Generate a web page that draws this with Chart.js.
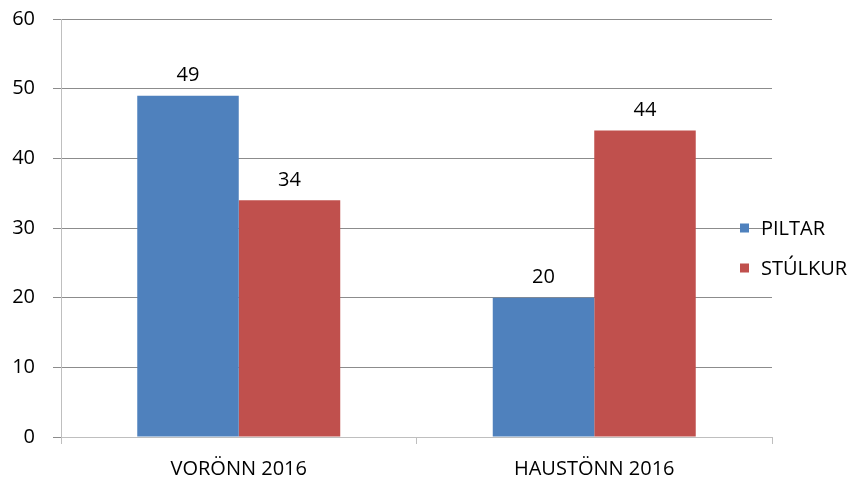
<!DOCTYPE html>
<html>
<head>
<meta charset="utf-8">
<script src="https://cdn.jsdelivr.net/npm/chart.js@4/dist/chart.umd.min.js"></script>
<style>
  html, body { margin: 0; padding: 0; background: #fff; }
  #wrap { width: 857px; height: 484px; }
</style>
</head>
<body>
<div id="wrap"><canvas id="chart"></canvas></div>
<script>
const categories = ['VORÖNN 2016', 'HAUSTÖNN 2016'];
const piltar = [49, 20];
const stulkur = [34, 44];
const seriesNames = ['PILTAR', 'STÚLKUR'];
const yTicks = [0, 10, 20, 30, 40, 50, 60];

const FONT = '"Open Sans", "Liberation Sans", sans-serif';
const FS = 20;

// value labels above each bar
const barLabels = {
    id: 'barLabels',
    afterDatasetsDraw(chart) {
        const ctx = chart.ctx;
        ctx.save();
        ctx.font = FS + 'px ' + FONT;
        ctx.fillStyle = '#000';
        ctx.textAlign = 'center';
        ctx.textBaseline = 'middle';
        chart.data.datasets.forEach((ds, i) => {
            chart.getDatasetMeta(i).data.forEach((bar, j) => {
                ctx.fillText(ds.data[j], bar.x, bar.y - 20);
            });
        });
        ctx.restore();
    }
};

// legend drawn inside the right part of the plot, like the original
const sideLegend = {
    id: 'sideLegend',
    afterDraw(chart) {
        const ctx = chart.ctx;
        ctx.save();
        ctx.font = FS + 'px ' + FONT;
        ctx.textBaseline = 'middle';
        chart.data.datasets.forEach((ds, i) => {
            const y = 228 + i * 40;
            ctx.fillStyle = ds.backgroundColor;
            ctx.fillRect(740, y - 4.5, 9, 9);
            ctx.fillStyle = '#000';
            ctx.fillText(ds.label, 761, y + 1);
        });
        ctx.restore();
    }
};

new Chart(document.getElementById('chart'), {
    type: 'bar',
    data: {
        labels: categories,
        datasets: [
            { label: seriesNames[0], data: piltar, backgroundColor: '#4F81BD' },
            { label: seriesNames[1], data: stulkur, backgroundColor: '#C0504D' }
        ]
    },
    options: {
        responsive: true,
        maintainAspectRatio: false,
        animation: false,
        layout: { padding: { top: 19, right: 85, left: 0, bottom: 0 } },
        categoryPercentage: 0.571,
        barPercentage: 1,
        plugins: {
            legend: { display: false },
            tooltip: { enabled: false }
        },
        scales: {
            x: {
                grid: {
                    offset: true,
                    drawOnChartArea: false,
                    tickLength: 7,
                    color: '#bfbfbf'
                },
                border: { color: '#bfbfbf', width: 1 },
                ticks: {
                    color: '#000',
                    padding: 13,
                    font: { family: FONT, size: FS }
                },
                afterFit(axis) { axis.height = 47; }
            },
            y: {
                min: 0,
                max: 60,
                afterBuildTicks(axis) {
                    axis.ticks = yTicks.map(v => ({ value: v }));
                },
                grid: {
                    color: '#8c8c8c',
                    tickLength: 8,
                    tickColor: '#8c8c8c'
                },
                border: { color: '#bfbfbf', width: 1 },
                ticks: {
                    color: '#000',
                    padding: 18,
                    font: { family: FONT, size: FS }
                },
                afterFit(axis) {
                    axis.width = 61;
                    axis.paddingTop = 0;
                    axis.paddingBottom = 0;
                }
            }
        }
    },
    plugins: [barLabels, sideLegend]
});
</script>
</body>
</html>
